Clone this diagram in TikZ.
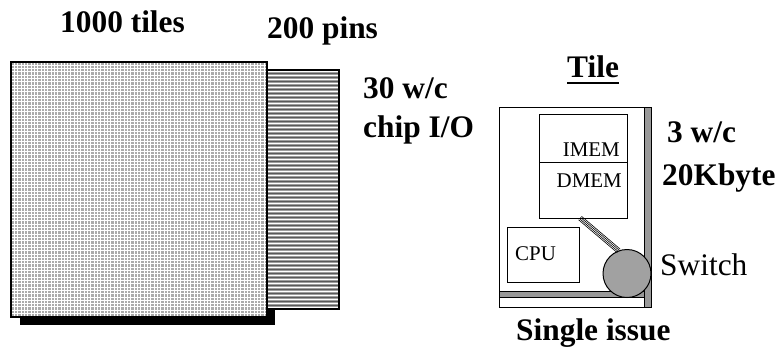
\documentclass[tikz,border=0pt]{standalone}
\usepackage{fontspec}
\setmainfont{Liberation Serif}
\begin{document}
\begin{tikzpicture}[x=1bp,y=-1bp,
  big/.style={font=\fontsize{31.5}{36}\selectfont\bfseries, inner sep=0, anchor=base west},
  reg/.style={font=\fontsize{31.5}{36}\selectfont, inner sep=0, anchor=base west},
  small/.style={font=\fontsize{21}{24}\selectfont, inner sep=0},
  box/.style={draw, line width=1bp, inner sep=0, outer sep=0},
  grayfill/.style={fill=black!40, draw, line width=1bp}]
\useasboundingbox (0,0) rectangle (783,354);
% --- chip: shadow, pins, tile grid
\fill[black] (20,70) rectangle (275,325);
\fill[black!38] (267,70) rectangle (339,309);
\foreach \i in {0,...,59} {
  \draw[white, line width=0.9bp] (267,71.5+4*\i) -- (339,71.5+4*\i);
  \draw[black!65, line width=0.7bp] (267,73.5+4*\i) -- (339,73.5+4*\i);
}
\draw[line width=1.2bp] (267,70) rectangle (339,309);
\fill[black!33] (11,62) rectangle (267,317);
\foreach \i in {0,...,76} {
  \draw[white, line width=0.9bp] (11+3.33*\i,62) -- (11+3.33*\i,317);
  \draw[white, line width=0.9bp] (11,62+3.31*\i) -- (267,62+3.31*\i);
}
\draw[line width=1.3bp] (11,62) rectangle (267,317);
% --- labels left
\node[big] (tiles) at (60,32) {1000 tiles};
\node[big] (pins) at (267,38) {200 pins};
\node[big] (wc30) at (363,98) {30 w/c};
\node[big] (chipio) at (363,137) {chip I/O};
% --- tile
\node[big] (tl) at (567,77) {Tile};
\draw[line width=2bp] ([yshift=-6bp]tl.base west) -- ([yshift=-6bp]tl.base east);
\draw[line width=1bp] (499,107) rectangle (651,307);
\draw[grayfill] (644,107) rectangle (651,307);
\draw[grayfill] (499,291) rectangle (644,297);
\node[box, minimum width=88bp, minimum height=104bp, anchor=north west] (mem) at (539,114) {};
\draw[line width=1bp] (mem.west |- 0,162) -- (mem.east |- 0,162);
\node[small, anchor=base east] (imem) at (620,156) {IMEM};
\node[small, anchor=base east] (dmem) at (622,187) {DMEM};
\node[box, minimum width=72bp, minimum height=55bp, anchor=north west] (cpu) at (507,227) {};
\node[small, anchor=base west] (cpul) at (515,260) {CPU};
\node[circle, draw, line width=1bp, fill=black!37, minimum size=48bp, inner sep=0, outer sep=0] (sw) at (627,273.5) {};
\coordinate (bs) at ([xshift=-3bp]mem.south);
\coordinate (be) at (sw.110);
\foreach \d in {-2.3,-0.8,0.8,2.3}
  \draw[line width=0.6bp] ([shift={(\d*0.646bp,\d*0.763bp)}]bs) -- ([shift={(\d*0.646bp,\d*0.763bp)}]be);
\node[reg] (swl) at (660,275) {Switch};
\node[big] (wc3) at (667,142) {3 w/c};
\node[big] (kb) at (662,185) {20Kbyte};
\node[big] (si) at (516,340) {Single issue};
\end{tikzpicture}
\end{document}
